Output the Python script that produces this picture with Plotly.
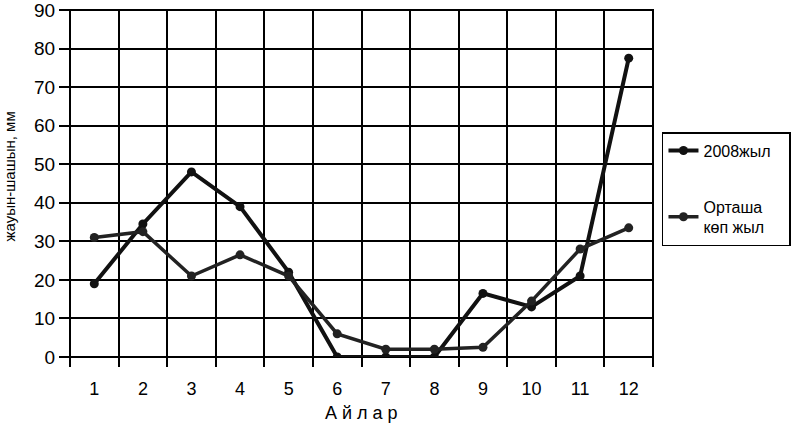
import plotly.graph_objects as go

months = list(range(1, 13))
month_labels = [str(m) for m in months]
y2008 = [19, 34.5, 48, 39, 22, 0, 0, 0, 16.5, 13, 21, 77.5]
y_avg = [31, 32.5, 21, 26.5, 21, 6, 2, 2, 2.5, 14.5, 28, 33.5]
y_ticks = list(range(0, 91, 10))

FONT = "Liberation Sans, Arial, sans-serif"

fig = go.Figure()
fig.add_trace(go.Scatter(
    x=months, y=y2008, name="2008жыл&nbsp;&nbsp;&nbsp;", mode="lines+markers",
    line=dict(color="#111111", width=4),
    marker=dict(size=9, color="#111111"),
    legendgroup="a"))
fig.add_trace(go.Scatter(
    x=months, y=y_avg, name="Орташа<br>көп жыл", mode="lines+markers",
    line=dict(color="#222222", width=3.5),
    marker=dict(size=9, color="#222222"),
    legendgroup="b"))

fig.update_layout(
    width=800, height=425,
    margin=dict(l=70, r=147, t=10, b=68, autoexpand=False),
    paper_bgcolor="white", plot_bgcolor="white",
    font=dict(family=FONT, color="black"),
    showlegend=True,
    legend=dict(
        x=1.0154, y=0.648, xanchor="left", yanchor="top",
        bordercolor="black", borderwidth=1.5, bgcolor="white",
        font=dict(size=16, family=FONT), tracegroupgap=32,
        itemwidth=30,
    ),
    xaxis=dict(
        range=[0.5, 12.5], tickvals=months, ticktext=month_labels,
        showgrid=False, ticks="", tickfont=dict(size=18),
        ticklabelstandoff=19, automargin=False,
        zeroline=False, showline=False,
        minor=dict(tick0=0.5, dtick=1, showgrid=True, gridcolor="black",
                   gridwidth=2, ticks="outside", ticklen=9, tickwidth=2,
                   tickcolor="black"),
    ),
    yaxis=dict(
        range=[0, 90], tickvals=y_ticks, showgrid=True, gridcolor="black",
        gridwidth=2, ticks="outside", ticklen=10, tickwidth=2,
        tickcolor="black", tickfont=dict(size=19), zeroline=False,
        showline=False, ticklabeloverflow="allow", automargin=False,
    ),
    annotations=[
        dict(text="жауын-шашын, мм", textangle=-90, xref="paper", yref="paper",
             x=-0.1030, y=0.52, xanchor="center", yanchor="middle",
             showarrow=False, font=dict(size=15, family=FONT)),
        dict(text="А й л а р", xref="paper", yref="paper",
             x=0.5, y=-0.161, xanchor="center", yanchor="middle",
             showarrow=False, font=dict(size=18, family=FONT)),
    ],
    shapes=[dict(type="rect", xref="paper", yref="paper", x0=0, x1=1, y0=0, y1=1,
                 line=dict(color="black", width=2), layer="below")],
)

fig.write_html("out.html", config={"displayModeBar": False},
               post_script="document.body.style.margin='0';document.body.style.overflow='hidden';")
